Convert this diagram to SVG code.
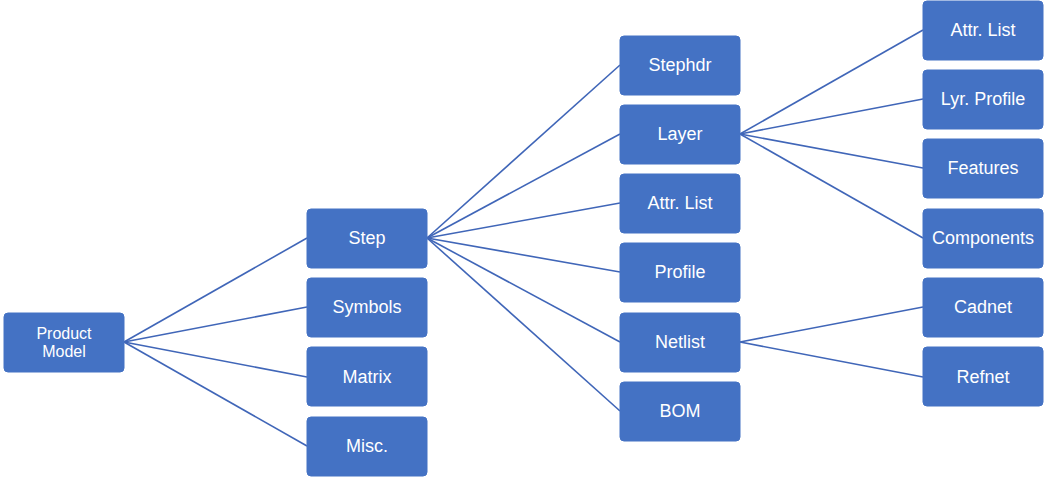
<svg xmlns="http://www.w3.org/2000/svg" width="1049" height="478" viewBox="0 0 1049 478">
<style>
.n rect{fill:#4472C4;stroke:#4472C4;stroke-width:1}
.n text{fill:#fff;font-family:"Liberation Sans",Arial,sans-serif;font-size:18px;text-anchor:middle;dominant-baseline:central}
#c line{stroke:#4066B8;stroke-width:1.6}
</style>
<rect width="1049" height="478" fill="#fff"/>
<g id="c">
<line x1="124" y1="342" x2="307" y2="238"/>
<line x1="124" y1="342" x2="307" y2="307"/>
<line x1="124" y1="342" x2="307" y2="377"/>
<line x1="124" y1="342" x2="307" y2="446"/>
<line x1="427" y1="238" x2="620" y2="65"/>
<line x1="427" y1="238" x2="620" y2="134"/>
<line x1="427" y1="238" x2="620" y2="203"/>
<line x1="427" y1="238" x2="620" y2="272"/>
<line x1="427" y1="238" x2="620" y2="342"/>
<line x1="427" y1="238" x2="620" y2="411"/>
<line x1="740" y1="134" x2="923" y2="30"/>
<line x1="740" y1="134" x2="923" y2="99"/>
<line x1="740" y1="134" x2="923" y2="168"/>
<line x1="740" y1="134" x2="923" y2="238"/>
<line x1="740" y1="342" x2="923" y2="307"/>
<line x1="740" y1="342" x2="923" y2="377"/>
</g>
<g id="product" class="n"><rect x="4" y="313" width="120" height="59" rx="4"/><text x="64" y="333" style="font-size:16px">Product</text><text x="64" y="351" style="font-size:16px">Model</text></g>
<g id="step" class="n"><rect x="307" y="209" width="120" height="59" rx="4"/><text x="367" y="238">Step</text></g>
<g id="symbols" class="n"><rect x="307" y="278" width="120" height="59" rx="4"/><text x="367" y="307">Symbols</text></g>
<g id="matrix" class="n"><rect x="307" y="347" width="120" height="59" rx="4"/><text x="367" y="377">Matrix</text></g>
<g id="misc" class="n"><rect x="307" y="417" width="120" height="59" rx="4"/><text x="367" y="446">Misc.</text></g>
<g id="stephdr" class="n"><rect x="620" y="36" width="120" height="59" rx="4"/><text x="680" y="65">Stephdr</text></g>
<g id="layer" class="n"><rect x="620" y="105" width="120" height="59" rx="4"/><text x="680" y="134">Layer</text></g>
<g id="attr1" class="n"><rect x="620" y="174" width="120" height="59" rx="4"/><text x="680" y="203">Attr. List</text></g>
<g id="profile" class="n"><rect x="620" y="243" width="120" height="59" rx="4"/><text x="680" y="272">Profile</text></g>
<g id="netlist" class="n"><rect x="620" y="313" width="120" height="59" rx="4"/><text x="680" y="342">Netlist</text></g>
<g id="bom" class="n"><rect x="620" y="382" width="120" height="59" rx="4"/><text x="680" y="411">BOM</text></g>
<g id="attr2" class="n"><rect x="923" y="1" width="120" height="59" rx="4"/><text x="983" y="30">Attr. List</text></g>
<g id="lyrprofile" class="n"><rect x="923" y="70" width="120" height="59" rx="4"/><text x="983" y="99">Lyr. Profile</text></g>
<g id="features" class="n"><rect x="923" y="139" width="120" height="59" rx="4"/><text x="983" y="168">Features</text></g>
<g id="components" class="n"><rect x="923" y="209" width="120" height="59" rx="4"/><text x="983" y="238">Components</text></g>
<g id="cadnet" class="n"><rect x="923" y="278" width="120" height="59" rx="4"/><text x="983" y="307">Cadnet</text></g>
<g id="refnet" class="n"><rect x="923" y="347" width="120" height="59" rx="4"/><text x="983" y="377">Refnet</text></g>
</svg>
